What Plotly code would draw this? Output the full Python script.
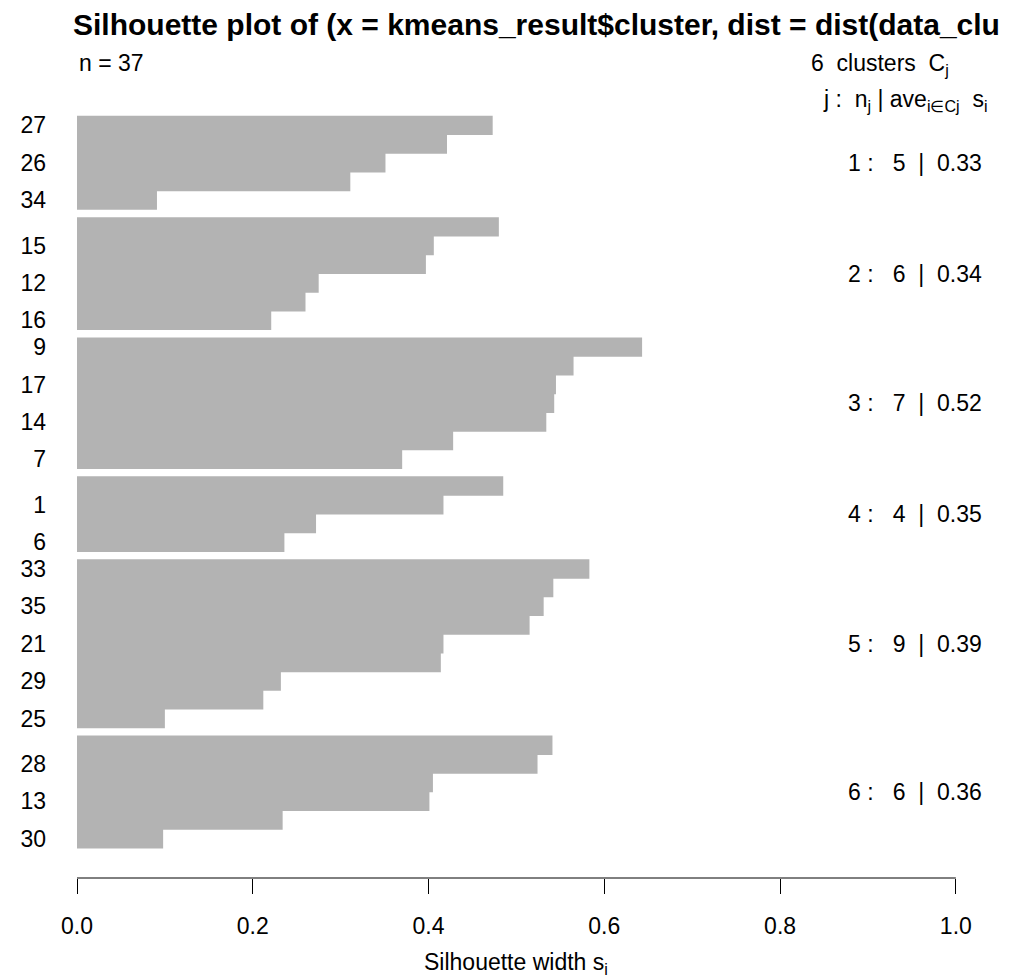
import plotly.graph_objects as go

# ---- data ----
cluster_ids = [1, 2, 3, 4, 5, 6]
cluster_sizes = [5, 6, 7, 4, 9, 6]
cluster_avg = [0.33, 0.34, 0.52, 0.35, 0.39, 0.36]

sil_c1 = [0.473, 0.421, 0.351, 0.311, 0.091]
sil_c2 = [0.480, 0.406, 0.397, 0.275, 0.260, 0.221]
sil_c3 = [0.643, 0.565, 0.545, 0.543, 0.534, 0.428, 0.370]
sil_c4 = [0.485, 0.417, 0.272, 0.236]
sil_c5 = [0.583, 0.542, 0.531, 0.515, 0.417, 0.414, 0.232, 0.212, 0.100]
sil_c6 = [0.541, 0.524, 0.405, 0.401, 0.234, 0.098]

# observation labels (only every other one is legible in the reference)
obs_labels = ["27", None, "26", None, "34",
              None, "15", None, "12", None, "16",
              "9", None, "17", None, "14", None, "7",
              None, "1", None, "6",
              "33", None, "35", None, "21", None, "29", None, "25",
              None, "28", None, "13", None, "30"]

x_ticks = [0.0, 0.2, 0.4, 0.6, 0.8, 1.0]
x_tick_text = ["0.0", "0.2", "0.4", "0.6", "0.8", "1.0"]

n_obs = 37
title_text = "Silhouette plot of (x = kmeans_result$cluster, dist = dist(data_clu"

# ---- build bar positions (clusters separated by a small gap) ----
clusters = [sil_c1, sil_c2, sil_c3, sil_c4, sil_c5, sil_c6]
GAP = 0.43
pos, vals, centers = [], [], []
k = 0
for ci, c in enumerate(clusters):
    cpos = []
    for v in c:
        p = k + GAP * ci
        pos.append(p)
        vals.append(v)
        cpos.append(p)
        k += 1
    centers.append((cpos[0] + cpos[-1]) / 2)

tickvals = [p for p, l in zip(pos, obs_labels) if l is not None]
ticktext = [l for l in obs_labels if l is not None]

FONT = "Liberation Sans, Arial, sans-serif"
FS = 23
NB = "\u00a0"

fig = go.Figure()
fig.add_trace(go.Bar(
    x=vals, y=pos, orientation="h", width=1.04,
    marker=dict(color="#B3B3B3", line=dict(width=0)),
    hoverinfo="x+y", showlegend=False,
))

annotations = []
for cid, n, a, cy in zip(cluster_ids, cluster_sizes, cluster_avg, centers):
    txt = f"{cid}{NB}:{NB*3}{n}{NB*2}|{NB*2}{a:.2f}"
    annotations.append(dict(
        x=1.0317, y=cy, xref="x", yref="y", xanchor="right", yanchor="middle",
        text=txt, showarrow=False, font=dict(size=FS, color="black", family=FONT)))

annotations += [
    dict(x=0.0, y=1.0476, xref="paper", yref="paper", xanchor="left", yanchor="middle",
         text=f"n = {n_obs}", showarrow=False,
         font=dict(size=FS, color="black", family=FONT)),
    dict(x=0.8005, y=1.045, xref="paper", yref="paper", xanchor="left", yanchor="middle",
         text=f"{len(cluster_ids)}{NB*2}clusters{NB*2}C<sub>j</sub>", showarrow=False,
         font=dict(size=FS, color="black", family=FONT)),
    dict(x=0.8136, y=1.0, xref="paper", yref="paper", xanchor="left", yanchor="middle",
         text=f"j :{NB*2}n<sub>j</sub>{NB}|{NB}ave<sub>i\u2208Cj</sub>{NB*2}s<sub>i</sub>",
         showarrow=False, font=dict(size=FS, color="black", family=FONT)),
    dict(x=0.5, y=-0.1105, xref="x", yref="paper", xanchor="center", yanchor="middle",
         text="Silhouette width s<sub>i</sub>", showarrow=False,
         font=dict(size=FS, color="black", family=FONT)),
]

# page body has an 8px margin: figure is offset by 8px right/down
fig.update_layout(
    width=1011, height=971,
    margin=dict(l=64, r=28, t=92, b=101),
    paper_bgcolor="white", plot_bgcolor="white",
    font=dict(family=FONT, color="black", size=FS),
    title=dict(text=f"<b>{title_text}</b>", x=65 / 1011, xref="container", xanchor="left",
               y=1 - 16 / 971, yref="container", yanchor="middle",
               font=dict(size=30, color="black", family=FONT)),
    xaxis=dict(range=[0, 1.04], tickvals=x_ticks, ticktext=x_tick_text,
               ticks="outside", ticklen=15, tickwidth=1, tickcolor="black",
               showline=False, showgrid=False, zeroline=False,
               tickfont=dict(size=FS, color="black", family=FONT),
               ticklabelstandoff=12),
    yaxis=dict(range=[40.249, -1.3556], tickvals=tickvals, ticktext=ticktext,
               ticks="", showline=False, showgrid=False, zeroline=False,
               tickfont=dict(size=FS, color="black", family=FONT),
               ticklabelstandoff=30),
    annotations=annotations,
    shapes=[dict(type="line", xref="x", yref="paper", x0=0, x1=1, y0=0, y1=0,
                 line=dict(color="black", width=1))],
)

fig.write_html("out.html")
